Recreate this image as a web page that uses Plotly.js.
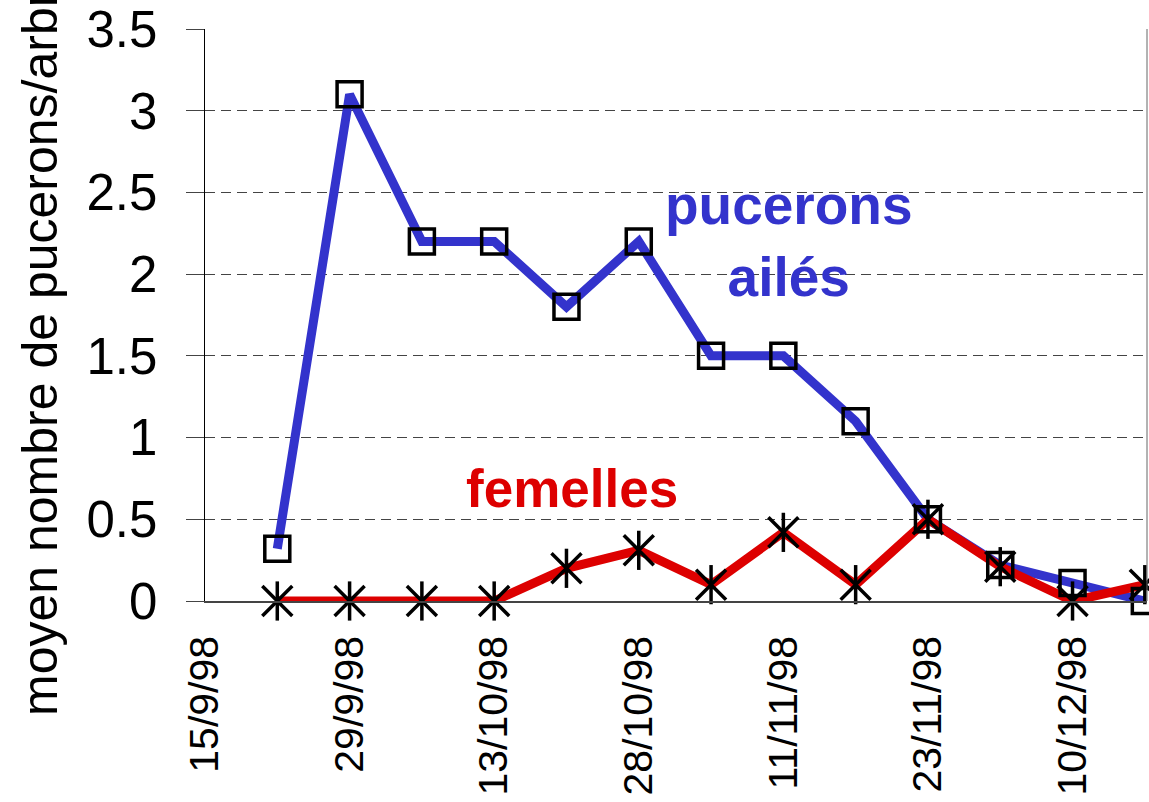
<!DOCTYPE html>
<html>
<head>
<meta charset="utf-8">
<script src="https://cdn.plot.ly/plotly-3.0.1.min.js"></script>
<style>html,body{margin:0;padding:0;background:#fff;}</style>
</head>
<body>
<div id="chart" style="width:1149px;height:802px;"></div>
<script>
// sampling occasions (position on the category axis)
const sampleIndex = [1, 2, 3, 4, 5, 6, 7, 8, 9, 10, 11, 12, 13];
// mean number of winged aphids per tree
const puceronsAiles = [0.32, 3.1, 2.2, 2.2, 1.8, 2.2, 1.5, 1.5, 1.1, 0.5, 0.22, 0.11, 0.0];
// mean number of females per tree
const femelles = [0, 0, 0, 0, 0.2, 0.31, 0.1, 0.42, 0.1, 0.5, 0.21, 0, 0.1];
// tick labels (every other occasion)
const tickPositions = [0, 2, 4, 6, 8, 10, 12];
const tickLabels = ['15/9/98', '29/9/98', '13/10/98', '28/10/98', '11/11/98', '23/11/98', '10/12/98'];

const blue = '#3333CC';
const red = '#DD0000';

const traces = [
  {x: sampleIndex, y: puceronsAiles, mode: 'lines', line: {color: blue, width: 9}, cliponaxis: false, hoverinfo: 'skip'},
  {x: sampleIndex, y: femelles, mode: 'lines', line: {color: red, width: 9}, cliponaxis: false, hoverinfo: 'skip'},
  {x: sampleIndex, y: puceronsAiles, mode: 'markers', cliponaxis: false,
   marker: {symbol: 'square-open', size: 25, color: '#000', line: {color: '#000', width: 3.5}}},
  {x: sampleIndex, y: femelles, mode: 'markers', cliponaxis: false,
   marker: {symbol: 'x-thin-open', size: 30, color: '#000', line: {color: '#000', width: 3.5}}},
  {x: sampleIndex, y: femelles, mode: 'markers', cliponaxis: false,
   marker: {symbol: 'line-ns-open', size: 28, color: '#000', line: {color: '#000', width: 3.5}}}
];

const layout = {
  width: 1149, height: 802,
  margin: {l: 205, r: 2, t: 29, b: 201},
  paper_bgcolor: '#fff', plot_bgcolor: '#fff',
  showlegend: false,
  font: {family: 'Liberation Sans, Arial, sans-serif', color: '#000'},
  xaxis: {
    range: [0, 13.03],
    tickmode: 'array', tickvals: tickPositions, ticktext: tickLabels,
    tickangle: -90,
    tickfont: {size: 41, color: '#000'},
    ticks: '', ticklabelstandoff: 17,
    showgrid: false, zeroline: false,
    showline: true, linecolor: '#444', linewidth: 1.5
  },
  yaxis: {
    range: [0, 3.5],
    tickmode: 'linear', tick0: 0, dtick: 0.5,
    tickfont: {size: 51, color: '#000'},
    ticks: 'outside', ticklen: 18, tickcolor: '#444', tickwidth: 1,
    ticklabelstandoff: 18,
    showgrid: true, gridcolor: '#444', griddash: '10px,6px', gridwidth: 1,
    zeroline: false,
    showline: true, linecolor: '#000', linewidth: 1.5
  },
  shapes: [
    {type: 'line', xref: 'paper', yref: 'paper', x0: 1, x1: 1, y0: 0, y1: 1,
     line: {color: '#666', width: 1}}
  ],
  annotations: [
    {xref: 'paper', yref: 'paper', x: (40 - 205) / 942, y: (601 - 340) / 572,
     text: 'moyen nombre de pucerons/arbre', textangle: -90, showarrow: false,
     xanchor: 'center', yanchor: 'middle', font: {size: 50, color: '#000'}},
    {xref: 'x', yref: 'y', x: 8.08, y: 2.2, text: 'pucerons<br>ailés', showarrow: false,
     xanchor: 'center', yanchor: 'middle', font: {size: 55, color: blue, family: 'Liberation Sans, Arial', weight: 'bold'}},
    {xref: 'x', yref: 'y', x: 5.08, y: 0.69, text: 'femelles', showarrow: false,
     xanchor: 'center', yanchor: 'middle', font: {size: 53, color: red, family: 'Liberation Sans, Arial', weight: 'bold'}}
  ]
};

Plotly.newPlot('chart', traces, layout, {displayModeBar: false, staticPlot: true});
</script>
</body>
</html>
